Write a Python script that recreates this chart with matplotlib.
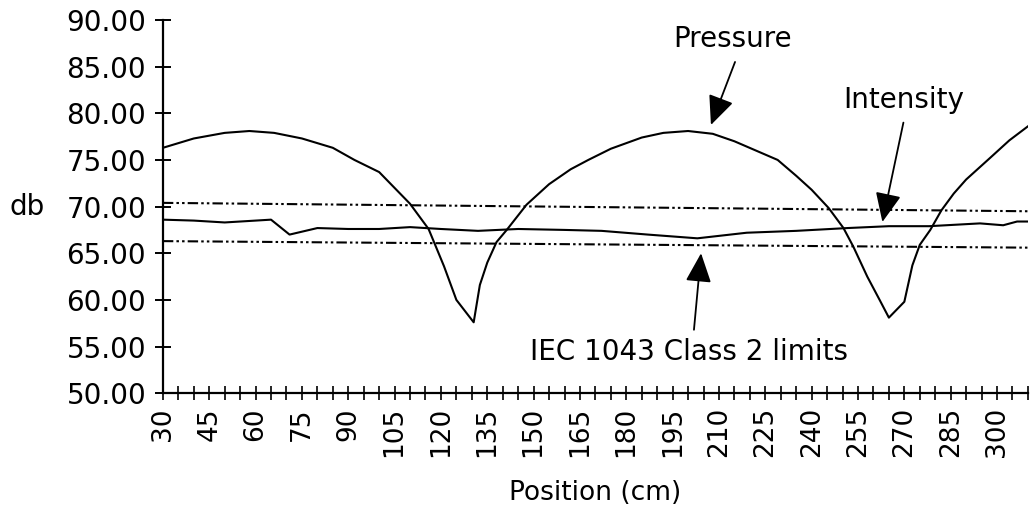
import numpy as np
import matplotlib.pyplot as plt
from matplotlib.ticker import MultipleLocator

# sound pressure level along the tube (db)
pressure_pos = [30, 40, 50, 58, 66, 75, 85, 92, 100, 105, 110, 116, 121, 125, 130.6,
                132.6, 135, 138, 141.3, 147.7, 155, 162, 167.7, 175, 185, 192, 200,
                208, 215, 222, 229, 235, 240, 245.5, 250.3, 253.5, 258, 262, 265,
                270, 272.6, 275, 278.4, 282, 286, 290, 297.7, 304, 310]
pressure_db = [76.3, 77.3, 77.9, 78.1, 77.9, 77.3, 76.3, 75.0, 73.7, 72.0, 70.3, 67.6,
               63.6, 60.0, 57.6, 61.6, 64.0, 66.2, 67.5, 70.2, 72.4, 74.0, 75.0, 76.2,
               77.4, 77.9, 78.1, 77.8, 77.0, 76.0, 75.0, 73.3, 71.8, 69.85, 67.7, 65.7,
               62.5, 60.0, 58.1, 59.8, 63.7, 65.9, 67.5, 69.6, 71.4, 72.9, 75.2, 77.1, 78.6]

# sound intensity level
intensity_pos = [30, 40, 50, 60, 65, 71, 80, 90, 100, 110, 120, 132, 145, 160, 172,
                 187, 203, 219, 235, 251.6, 265, 278, 294.5, 302, 306.5, 310]
intensity_db = [68.6, 68.5, 68.3, 68.5, 68.6, 67.0, 67.7, 67.6, 67.6, 67.8, 67.6, 67.4,
                67.6, 67.5, 67.4, 67.0, 66.6, 67.2, 67.4, 67.7, 67.9, 67.9, 68.2, 68.0,
                68.4, 68.4]

# IEC 1043 class 2 tolerance band
limit_pos = [30, 310]
limit_upper = [70.4, 69.5]
limit_lower = [66.3, 65.6]

fig = plt.figure(figsize=(10.31, 5.12), dpi=100)
ax = fig.add_axes([0.158, 0.232, 0.839, 0.729])

ax.plot(pressure_pos, pressure_db, color='black', lw=1.5)
ax.plot(intensity_pos, intensity_db, color='black', lw=1.5)
dashdotdot = (0, (5, 1.5, 1.2, 1.5, 1.2, 1.5))
ax.plot(limit_pos, limit_upper, color='black', lw=1.5, linestyle=dashdotdot)
ax.plot(limit_pos, limit_lower, color='black', lw=1.5, linestyle=dashdotdot)

ax.set_xlim(30, 310)
ax.set_ylim(50, 90)

for side in ['top', 'right']:
    ax.spines[side].set_visible(False)
for side in ['left', 'bottom']:
    ax.spines[side].set_linewidth(1.6)

ax.yaxis.set_major_locator(MultipleLocator(5))
ax.yaxis.set_major_formatter(plt.FuncFormatter(lambda v, p: f'{v:.2f}'))
ax.xaxis.set_major_locator(MultipleLocator(15))
ax.xaxis.set_minor_locator(MultipleLocator(5))
ax.tick_params(axis='y', direction='inout', length=12, width=1.4, labelsize=20, pad=6)
ax.tick_params(axis='x', which='both', direction='inout', length=10, width=1.2,
               labelsize=19, pad=5)
ax.tick_params(axis='x', labelrotation=90)

ax.set_xlabel('Position (cm)', fontsize=19, labelpad=16)
ax.set_ylabel('db', fontsize=20, rotation=0, va='center', ha='center')
ax.yaxis.set_label_coords(-0.157, 0.5)

arrow = dict(arrowstyle='-|>,head_length=0.9,head_width=0.4', color='black',
             lw=1.3, mutation_scale=20, shrinkA=0, shrinkB=0)

ax.text(214.5, 87.96, 'Pressure', fontsize=20, ha='center', va='center')
ax.annotate('', xy=(207.4, 78.75), xytext=(215.2, 85.5), arrowprops=arrow)

ax.text(269.7, 81.4, 'Intensity', fontsize=20, ha='center', va='center')
ax.annotate('', xy=(262.9, 68.35), xytext=(269.7, 79.0), arrowprops=arrow)

ax.text(200.3, 54.4, 'IEC 1043 Class 2 limits', fontsize=20, ha='center', va='center')
ax.annotate('', xy=(204.2, 65.0), xytext=(201.9, 56.8), arrowprops=arrow)

fig.savefig('out.png', dpi=100)
